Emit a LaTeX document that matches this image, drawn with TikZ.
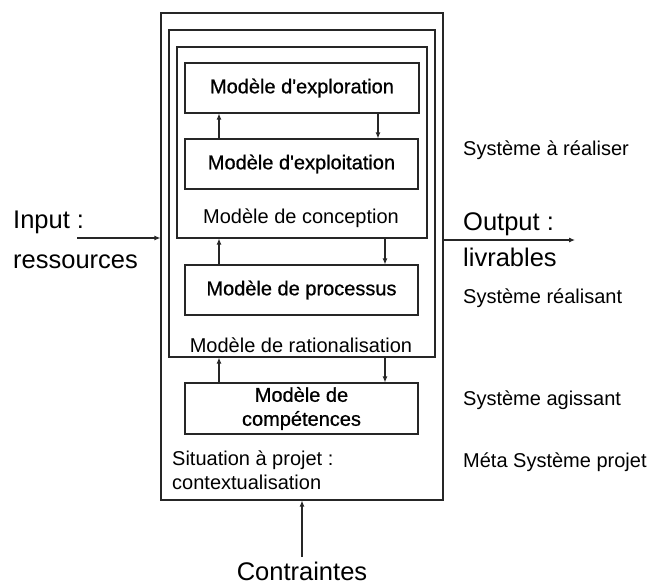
\documentclass[tikz,border=0pt]{standalone}
\usepackage{fontspec}
\setmainfont{Liberation Sans}
\newfontfamily\boxfont[FakeBold=0.8]{Liberation Sans}
\usetikzlibrary{arrows.meta}
\begin{document}
\begin{tikzpicture}[x=1pt,y=-1pt,
  frame/.style={draw=black!85, line width=1.1pt, inner sep=0pt},
  model/.style={frame, text=black, font=\boxfont\fontsize{20}{24}\selectfont, align=center},
  lbl/.style={inner sep=0pt, font=\fontsize{20}{24}\selectfont, align=left},
  big/.style={inner sep=0pt, font=\fontsize{25.5}{30}\selectfont, align=left},
  arr/.style={draw=black!85, line width=1.1pt, -{Latex[length=6pt,width=5pt]}}]
\useasboundingbox (0,0) rectangle (654,586);
% frames
\node[frame, minimum width=282pt, minimum height=487pt] (outer) at (302,256.5) {};
\node[frame, minimum width=266pt, minimum height=327pt] (ratio) at (302,193.5) {};
\node[frame, minimum width=250pt, minimum height=191pt] (conc) at (302,142.5) {};
% models
\node[model, minimum width=234pt, minimum height=50pt] (expl) at (302,88) {Modèle d'exploration};
\node[model, minimum width=233pt, minimum height=50pt] (explt) at (301.5,164) {Modèle d'exploitation};
\node[model, minimum width=233pt, minimum height=50pt] (proc) at (301.5,290) {Modèle de processus};
\node[model, minimum width=233pt, minimum height=51pt] (comp) at (301.5,408.5) {Modèle de\\compétences};
% frame labels
\node[lbl] (tconc) at (301,218) {Modèle de conception};
\node[lbl] (tratio) at (301,345) {Modèle de rationalisation};
\node[lbl, anchor=west] (tsit) at (172,470) {Situation à projet :\\contextualisation};
% column coordinates
\coordinate (L) at (219,0);
\coordinate (R1) at (378,0);
\coordinate (R) at (385,0);
% inner arrows
\draw[arr] (explt.north -| L) -- (expl.south -| L);
\draw[arr] (expl.south -| R1) -- (explt.north -| R1);
\draw[arr] (proc.north -| L) -- (conc.south -| L);
\draw[arr] (conc.south -| R) -- (proc.north -| R);
\draw[arr] (comp.north -| L) -- (ratio.south -| L);
\draw[arr] (ratio.south -| R) -- (comp.north -| R);
% input / output
\node[big, anchor=west] (input) at (13,240) {\vphantom{p}Input :\\[10pt]ressources};
\coordinate (inS) at (77,238);
\draw[arr] (inS) -- (outer.west |- inS);
\node[big, anchor=west] (output) at (463,240) {Output :\\[6pt]livrables};
\coordinate (outE) at (575,240);
\draw[arr] (outer.east |- outE) -- (outE);
% constraints
\node[big] (contr) at (302,571) {Contraintes};
\coordinate (cS) at (302,557);
\draw[arr] (cS) -- (outer.south);
% system labels
\node[lbl, anchor=west] (s1) at (463,150) {Système à réaliser};
\node[lbl, anchor=west] (s2) at (463,298) {Système réalisant};
\node[lbl, anchor=west] (s3) at (463,400) {Système agissant};
\node[lbl, anchor=west] (s4) at (463,462) {Méta Système projet};
\end{tikzpicture}
\end{document}
